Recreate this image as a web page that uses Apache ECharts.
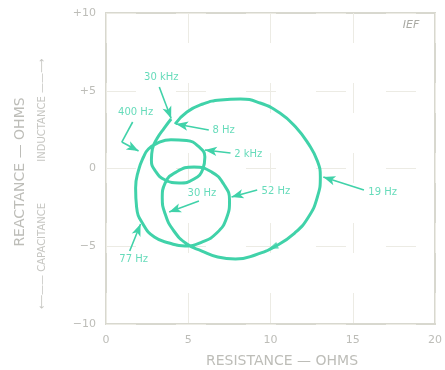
<!DOCTYPE html>
<html>
<head>
<meta charset="utf-8">
<script src="https://cdn.jsdelivr.net/npm/echarts@6/dist/echarts.min.js"></script>
<style>
html,body{margin:0;padding:0;background:#fff;}
#chart{width:445px;height:370px;}
</style>
</head>
<body>
<div id="chart"></div>
<script>
// Impedance locus: resistance (ohms) vs reactance (ohms), in frequency order 8 Hz -> 30 kHz
var curveR = [4.20,4.92,5.89,6.97,8.17,9.37,10.57,11.53,12.31,12.85,13.03,12.85,12.31,11.47,10.33,9.07,7.87,6.79,5.83,
  4.92,4.08,3.60,3.42,3.60,4.26,5.35,6.43,7.15,7.51,7.33,6.73,5.83,4.80,
  3.84,2.94,2.28,1.86,1.80,1.98,2.28,2.58,
  3.10,3.95,4.90,5.62,6.01,5.89,5.35,4.44,3.60,3.00,2.76,2.82,3.12,3.54,3.96];
var curveX = [2.86,3.63,4.15,4.41,4.47,4.21,3.57,2.67,1.58,0.48,-0.55,-1.83,-3.12,-4.15,-4.98,-5.56,-5.82,-5.69,-5.31,
  -4.86,-3.95,-2.93,-1.90,-0.93,-0.23,0.10,-0.23,-1.00,-2.03,-3.18,-4.15,-4.73,-4.98,
  -4.79,-4.41,-3.63,-2.48,-1.25,-0.10,0.74,1.25,
  1.62,1.85,1.80,1.42,0.74,-0.03,-0.68,-0.93,-0.74,-0.16,0.55,1.25,1.96,2.60,3.18];

// Frequency annotations
var freqLabels = ['30 kHz','400 Hz','8 Hz','2 kHz','19 Hz','52 Hz','30 Hz','77 Hz'];
var labelR     = [3.36, 1.80, 7.15, 8.65, 16.82, 10.33, 5.83, 1.68];
var labelX     = [5.88, 3.63, 2.48, 0.93, -1.51, -1.45, -1.58, -5.82];
// Pointer lines: from (fromR, fromX) to the curve at (toR, toX)
var arrowFromR = [3.24, 0.96, 6.25, 7.57, 15.68, 9.19, 5.65, 1.44];
var arrowFromX = [5.24, 1.70, 2.48, 1.00, -1.38, -1.38, -2.09, -5.31];
var arrowToR   = [3.96, 1.98, 4.26, 6.01, 13.21, 7.63, 3.84, 2.10];
var arrowToX   = [3.22, 1.13, 2.86, 1.19, -0.55, -1.83, -2.80, -3.57];
// bent leader of the 400 Hz label
var leader400R = [1.62, 0.96];
var leader400X = [2.99, 1.70];
// direction marker on the curve
var dirMarkR = [10.15];
var dirMarkX = [-5.05];

// Axes
var xTicks = [0, 5, 10, 15, 20];
var xTickLabels = ['0', '5', '10', '15', '20'];
var yTicks = [-10, -5, 0, 5, 10];
var yTickLabels = ['\u221210', '\u22125', '0', '+5', '+10'];

var TEAL = '#40d2a9';
var GREY = '#bdbdb8';

var chart = echarts.init(document.getElementById('chart'), null, {renderer: 'canvas'});

var curveData = curveR.map(function (r, i) { return [r, curveX[i]]; });
var labelData = freqLabels.map(function (n, i) { return {name: n, value: [labelR[i], labelX[i]]}; });
var arrowLines = arrowFromR.map(function (r, i) {
  return [{coord: [r, arrowFromX[i]], symbol: 'none'}, {coord: [arrowToR[i], arrowToX[i]], symbol: 'arrow'}];
});
arrowLines.push([{coord: [leader400R[0], leader400X[0]], symbol: 'none'}, {coord: [leader400R[1], leader400X[1]], symbol: 'none'}]);
var dirData = dirMarkR.map(function (r, i) { return [r, dirMarkX[i]]; });

function tickFmt(ticks, labels) {
  return function (v) {
    for (var i = 0; i < ticks.length; i++) if (Math.abs(ticks[i] - v) < 1e-6) return labels[i];
    return '';
  };
}

var option = {
  animation: false,
  backgroundColor: '#ffffff',
  grid: {left: 106, right: 6, top: 13, bottom: 46, show: true, borderColor: '#d8d8cf', borderWidth: 2, backgroundColor: 'transparent'},
  xAxis: {
    type: 'value', min: 0, max: 20, interval: 5,
    axisLine: {show: false}, axisTick: {show: false},
    axisLabel: {color: GREY, fontSize: 11, fontFamily: 'DejaVu Sans', margin: 11, formatter: tickFmt(xTicks, xTickLabels)},
    splitLine: {show: true, lineStyle: {color: '#ecebe4', width: 1, type: [30, 40]}}
  },
  yAxis: {
    type: 'value', min: -10, max: 10, interval: 5,
    axisLine: {show: false}, axisTick: {show: false},
    axisLabel: {color: GREY, fontSize: 11, fontFamily: 'DejaVu Sans', margin: 10, formatter: tickFmt(yTicks, yTickLabels)},
    splitLine: {show: true, lineStyle: {color: '#ecebe4', width: 1, type: [30, 40]}}
  },
  series: [
    {
      type: 'line',
      data: curveData,
      smooth: 0.5,
      showSymbol: false,
      lineStyle: {color: TEAL, width: 3},
      silent: true,
      z: 3,
      markLine: {
        silent: true,
        symbol: ['none', 'arrow'],
        symbolSize: [7, 12],
        label: {show: false},
        lineStyle: {color: TEAL, width: 1.6, type: 'solid'},
        emphasis: {disabled: true},
        data: arrowLines
      }
    },
    {
      type: 'scatter',
      data: dirData,
      symbol: 'triangle',
      symbolSize: [7, 10],
      symbolRotate: 112,
      itemStyle: {color: TEAL},
      silent: true,
      z: 4
    },
    {
      type: 'scatter',
      data: labelData,
      symbolSize: 0,
      silent: true,
      label: {
        show: true, position: 'inside',
        formatter: function (p) { return p.name; },
        color: TEAL, fontSize: 10, fontFamily: 'DejaVu Sans'
      }
    }
  ],
  graphic: [
    {type: 'text', x: 282, y: 361, style: {text: 'RESISTANCE \u2014 OHMS', fill: GREY, font: '14px "DejaVu Sans"', align: 'center', verticalAlign: 'middle'}},
    {type: 'text', x: 20, y: 172, rotation: Math.PI / 2, style: {text: 'REACTANCE \u2014 OHMS', fill: GREY, font: '14px "DejaVu Sans"', align: 'center', verticalAlign: 'middle'}},
    {type: 'text', x: 42, y: 184, rotation: Math.PI / 2, style: {text: '\u27F5\u2014\u2014 CAPACITANCE             INDUCTANCE \u2014\u2014\u27F6', fill: '#c6c6c2', font: '10px "DejaVu Sans"', align: 'center', verticalAlign: 'middle'}},
    {type: 'text', x: 411, y: 25, style: {text: 'IEF', fill: '#aaaaa4', font: 'italic 11px "DejaVu Sans"', align: 'center', verticalAlign: 'middle'}}
  ]
};
chart.setOption(option);
</script>
</body>
</html>
